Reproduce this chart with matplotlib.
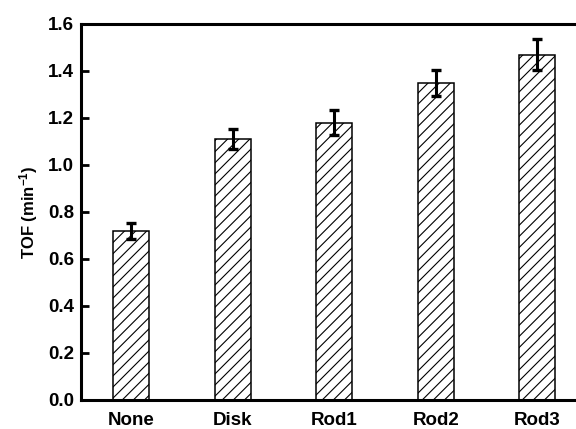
import numpy as np
import matplotlib
matplotlib.use('Agg')
import matplotlib.pyplot as plt

catalysts = ['None', 'Disk', 'Rod1', 'Rod2', 'Rod3']
tof = [0.72, 1.11, 1.18, 1.35, 1.47]
tof_err = [0.033, 0.043, 0.052, 0.055, 0.064]

plt.rcParams['font.family'] = ['Liberation Sans', 'DejaVu Sans']
plt.rcParams['font.weight'] = 'bold'
plt.rcParams['mathtext.fontset'] = 'custom'
plt.rcParams['mathtext.rm'] = 'Liberation Sans:bold'
plt.rcParams['mathtext.bf'] = 'Liberation Sans:bold'
plt.rcParams['mathtext.default'] = 'bf'
plt.rcParams['hatch.linewidth'] = 0.8

fig = plt.figure(figsize=(5.76, 4.29), dpi=100)
ax = fig.add_axes([0.1406, 0.0676, 0.889, 0.8765])

x = np.arange(len(catalysts))
ax.bar(x, tof, width=0.355, color='white', edgecolor='black',
       linewidth=1.1, hatch='///', zorder=2)
ax.errorbar(x, tof, yerr=tof_err, fmt='none', ecolor='black',
            elinewidth=2.2, capsize=3.6, capthick=2.4, zorder=3)

ax.set_xlim(-0.495, 4.55)
ax.set_ylim(0, 1.6)
ax.set_yticks(np.arange(0, 1.61, 0.2))
ax.set_yticklabels(['%.1f' % v for v in np.arange(0, 1.61, 0.2)])
ax.set_xticks(x)
ax.set_xticklabels(catalysts)

ax.tick_params(axis='y', direction='in', length=6, width=2, labelsize=13.5, pad=5)
ax.tick_params(axis='x', length=0, labelsize=13.5, pad=9)
for s in ax.spines.values():
    s.set_linewidth(2.2)

ax.set_ylabel('TOF (min$^{-1}$)', fontsize=12, fontweight='bold', labelpad=6)

fig.savefig('out.png', dpi=100)
